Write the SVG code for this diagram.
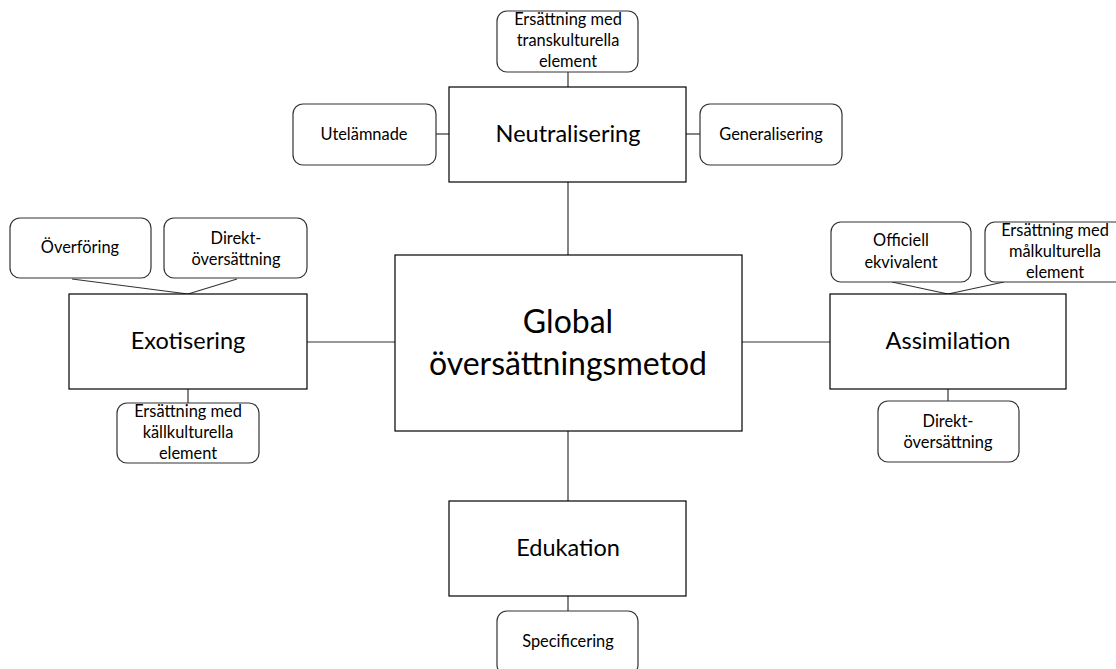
<svg xmlns="http://www.w3.org/2000/svg" width="1116" height="669" viewBox="0 0 1116 669">
<style>
.main{fill:#fff;stroke:#000;stroke-width:1.2}
.sub{fill:#fff;stroke:#333;stroke-width:1.2}
.con line{stroke:#333;stroke-width:1.2}
text{font-family:Lato,"Liberation Sans",sans-serif;fill:#000;text-anchor:middle}
.big{font-size:23.5px}
.huge{font-size:32px}
.sm{font-size:16.4px}
</style>
<rect width="1116" height="669" fill="#fff"/>
<g class="con">
<line x1="568" y1="72" x2="568" y2="87"/>
<line x1="436" y1="134" x2="449" y2="134"/>
<line x1="686" y1="134" x2="700" y2="134"/>
<line x1="568" y1="182" x2="568" y2="255"/>
<line x1="307" y1="342" x2="395" y2="342"/>
<line x1="742" y1="342" x2="830" y2="342"/>
<line x1="568" y1="431" x2="568" y2="501"/>
<line x1="568" y1="596" x2="568" y2="611"/>
<line x1="72" y1="279" x2="188" y2="294"/>
<line x1="237" y1="279" x2="188" y2="294"/>
<line x1="188" y1="389" x2="188" y2="403"/>
<line x1="892" y1="282" x2="948" y2="294"/>
<line x1="1004" y1="282" x2="948" y2="294"/>
<line x1="948" y1="389" x2="948" y2="401"/>
</g>
<g id="global"><rect class="main" x="395" y="255" width="347" height="176"/><text class="huge" x="568" y="333">Global</text><text class="huge" x="568" y="375">översättningsmetod</text></g>
<g id="neutralisering"><rect class="main" x="449" y="87" width="237" height="95"/><text class="big" x="568" y="142">Neutralisering</text></g>
<g id="exotisering"><rect class="main" x="69" y="294" width="238" height="95"/><text class="big" x="188" y="349">Exotisering</text></g>
<g id="assimilation"><rect class="main" x="830" y="294" width="236" height="95"/><text class="big" x="948" y="349">Assimilation</text></g>
<g id="edukation"><rect class="main" x="449" y="501" width="237" height="95"/><text class="big" x="568" y="556">Edukation</text></g>
<g id="transkulturella"><rect class="sub" x="497" y="11" width="141" height="61" rx="10"/><text class="sm" x="568" y="25">Ersättning med</text><text class="sm" x="568" y="46">transkulturella</text><text class="sm" x="568" y="67">element</text></g>
<g id="utelamnade"><rect class="sub" x="293" y="104" width="143" height="61" rx="10"/><text class="sm" x="364" y="140">Utelämnade</text></g>
<g id="generalisering"><rect class="sub" x="700" y="104" width="142" height="61" rx="10"/><text class="sm" x="771" y="140">Generalisering</text></g>
<g id="overforing"><rect class="sub" x="10" y="218" width="141" height="60" rx="10"/><text class="sm" x="80" y="253">Överföring</text></g>
<g id="direkt1"><rect class="sub" x="164" y="218" width="143" height="60" rx="10"/><text class="sm" x="236" y="244">Direkt-</text><text class="sm" x="236" y="265">översättning</text></g>
<g id="kallkulturella"><rect class="sub" x="117" y="403" width="142" height="60" rx="10"/><text class="sm" x="188" y="417">Ersättning med</text><text class="sm" x="188" y="438">källkulturella</text><text class="sm" x="188" y="459">element</text></g>
<g id="officiell"><rect class="sub" x="831" y="222" width="140" height="60" rx="10"/><text class="sm" x="901" y="246">Officiell</text><text class="sm" x="901" y="268">ekvivalent</text></g>
<g id="malkulturella"><rect class="sub" x="985" y="222" width="140" height="60" rx="10"/><text class="sm" x="1055" y="236">Ersättning med</text><text class="sm" x="1055" y="257">målkulturella</text><text class="sm" x="1055" y="278">element</text></g>
<g id="direkt2"><rect class="sub" x="878" y="401" width="141" height="61" rx="10"/><text class="sm" x="948" y="427">Direkt-</text><text class="sm" x="948" y="448">översättning</text></g>
<g id="specificering"><rect class="sub" x="497" y="611" width="141" height="64" rx="10"/><text class="sm" x="568" y="647">Specificering</text></g>
</svg>
